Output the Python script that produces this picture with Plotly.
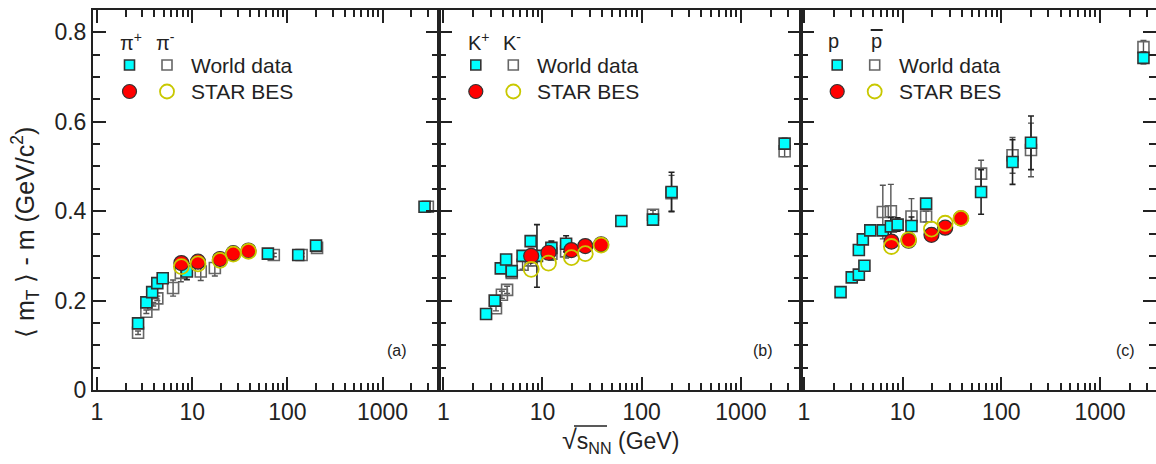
import plotly.graph_objects as go
import numpy as np

W, H = 1156, 464

# ---------------- data ----------------
# panel (a) pions
pip_x = [2.7, 3.3, 3.8, 4.3, 4.9, 8.8, 62.4, 130, 200, 2760]
pip_y = [0.149, 0.196, 0.219, 0.239, 0.250, 0.265, 0.305, 0.302, 0.323, 0.410]
pip_e = [0.005, 0.005, 0.005, 0.005, 0.005, 0.018, 0.004, 0.004, 0.008, 0.008]
pim_x = [2.7, 3.3, 3.9, 4.3, 6.3, 7.6, 12.3, 17.3, 72, 141, 205, 2990]
pim_y = [0.128, 0.175, 0.192, 0.205, 0.228, 0.262, 0.265, 0.273, 0.302, 0.302, 0.318, 0.410]
pim_e = [0.004, 0.004, 0.004, 0.005, 0.018, 0.02, 0.02, 0.018, 0.004, 0.004, 0.008, 0.008]
star_pip_x = [7.7, 11.5, 19.6, 27, 39]
star_pip_y = [0.284, 0.287, 0.293, 0.306, 0.312]
star_pip_e = [0.008, 0.008, 0.008, 0.008, 0.008]
star_pim_y = [0.276, 0.282, 0.290, 0.304, 0.310]

# panel (b) kaons
kp_x = [2.7, 3.3, 3.8, 4.3, 4.9, 6.3, 7.6, 8.8, 12.3, 17.3, 62.4, 130, 200, 2760]
kp_y = [0.170, 0.200, 0.272, 0.292, 0.266, 0.300, 0.333, 0.300, 0.318, 0.327, 0.378, 0.381, 0.443, 0.551]
kp_e = [0.004, 0.005, 0.006, 0.008, 0.006, 0.010, 0.012, 0.070, 0.015, 0.018, 0.010, 0.012, 0.044, 0.012]
km_x = [3.4, 3.9, 4.4, 4.9, 6.3, 7.6, 12.3, 17.3, 130, 200, 2760]
km_y = [0.183, 0.213, 0.224, 0.262, 0.280, 0.290, 0.305, 0.310, 0.392, 0.440, 0.534]
km_e = [0.006, 0.008, 0.008, 0.008, 0.010, 0.012, 0.015, 0.015, 0.010, 0.040, 0.012]
star_kp_x = [7.7, 11.5, 19.6, 27, 39]
star_kp_y = [0.300, 0.307, 0.313, 0.322, 0.326]
star_kp_e = [0.010, 0.010, 0.010, 0.010, 0.010]
star_km_y = [0.270, 0.284, 0.296, 0.305, 0.324]

# panel (c) protons
p_x = [2.35, 3.05, 3.6, 4.1, 3.6, 3.95, 4.7, 6.3, 7.6, 8.9, 12.3, 17.3, 62.4, 130, 200, 2760]
p_y = [0.219, 0.252, 0.258, 0.278, 0.313, 0.337, 0.357, 0.357, 0.366, 0.370, 0.367, 0.417, 0.443, 0.510, 0.553, 0.743]
p_e = [0.006, 0.006, 0.006, 0.008, 0.006, 0.006, 0.008, 0.010, 0.020, 0.015, 0.020, 0.010, 0.050, 0.050, 0.060, 0.013]
pb_x = [6.3, 7.6, 12.3, 17.3, 62.4, 130, 200, 2760]
pb_y = [0.398, 0.400, 0.388, 0.388, 0.484, 0.525, 0.537, 0.767]
pb_e = [0.060, 0.060, 0.040, 0.012, 0.030, 0.040, 0.060, 0.015]
star_p_x = [7.7, 11.5, 19.6, 27, 39]
star_p_y = [0.332, 0.334, 0.347, 0.363, 0.384]
star_p_e = [0.010, 0.010, 0.010, 0.012, 0.015]
star_pb_y = [0.321, 0.336, 0.360, 0.373, 0.384]

x_tick_vals = [1, 10, 100, 1000]
x_tick_text = ["1", "10", "100", "1000"]
y_tick_vals = [0, 0.2, 0.4, 0.6, 0.8]
y_tick_text = ["0", "0.2", "0.4", "0.6", "0.8"]
panel_tags = ["(a)", "(b)", "(c)"]
legend_heads = [("π<sup>+</sup>", "π<sup>-</sup>"), ("K<sup>+</sup>", "K<sup>-</sup>"), ("p", "p")]
legend_labels = ["World data", "STAR BES"]

# ---------------- layout geometry ----------------
edges = [93, 439.3, 800.7, 1156]
x_ranges = [(-0.042, 3.596), (-0.040, 3.603), (-0.033, 3.568)]
y_dom = ((H - 390) / H, (H - 10) / H)

FONT = "Liberation Sans, Arial, sans-serif"
INK = "#222222"
CYAN = "#00FFFF"
YEL = "#C8C800"

fig = go.Figure()

panels = [
    (pip_x, pip_y, pip_e, pim_x, pim_y, pim_e, star_pip_x, star_pip_y, star_pip_e, star_pim_y),
    (kp_x, kp_y, kp_e, km_x, km_y, km_e, star_kp_x, star_kp_y, star_kp_e, star_km_y),
    (p_x, p_y, p_e, pb_x, pb_y, pb_e, star_p_x, star_p_y, star_p_e, star_pb_y),
]

for i, (ax, ay, ae, bx, by, be, sx, sy, se, sy2) in enumerate(panels):
    xa = "x" if i == 0 else f"x{i+1}"
    ya = "y" if i == 0 else f"y{i+1}"
    fig.add_trace(go.Scatter(x=bx, y=by, mode="markers", xaxis=xa, yaxis=ya, showlegend=False,
                             marker=dict(symbol="square-open", size=11, color="#666666", line=dict(width=1.6)),
                             error_y=dict(type="data", array=be, color="#555555", thickness=1.4, width=3)))
    fig.add_trace(go.Scatter(x=ax, y=ay, mode="markers", xaxis=xa, yaxis=ya, showlegend=False,
                             marker=dict(symbol="square", size=11, color=CYAN, line=dict(color="#333333", width=1.6)),
                             error_y=dict(type="data", array=ae, color=INK, thickness=1.6, width=3)))
    fig.add_trace(go.Scatter(x=sx, y=sy, mode="markers", xaxis=xa, yaxis=ya, showlegend=False,
                             marker=dict(symbol="circle", size=15, color="#FF0000", line=dict(color="#333333", width=1.2)),
                             error_y=dict(type="data", array=se, color=INK, thickness=1.4, width=3)))
    fig.add_trace(go.Scatter(x=sx, y=sy2, mode="markers", xaxis=xa, yaxis=ya, showlegend=False,
                             marker=dict(symbol="circle-open", size=15, color=YEL, line=dict(width=1.8))))

layout = dict(
    width=W, height=H, margin=dict(l=0, r=0, t=0, b=0),
    paper_bgcolor="white", plot_bgcolor="white",
    font=dict(family=FONT, color=INK),
    showlegend=False,
)

for i in range(3):
    xk = "xaxis" if i == 0 else f"xaxis{i+1}"
    yk = "yaxis" if i == 0 else f"yaxis{i+1}"
    ya = "y" if i == 0 else f"y{i+1}"
    xa = "x" if i == 0 else f"x{i+1}"
    layout[xk] = dict(
        type="log", range=list(x_ranges[i]), domain=[edges[i] / W, edges[i + 1] / W],
        anchor=ya, showline=True, linecolor=INK, linewidth=2, mirror="ticks",
        ticks="inside", ticklen=13, tickwidth=1.5, tickcolor=INK,
        tickvals=x_tick_vals, ticktext=x_tick_text, showgrid=False, zeroline=False,
        tickfont=dict(size=23, family=FONT, color=INK),
        minor=dict(ticks="inside", ticklen=7, tickwidth=1.5, tickcolor=INK,
                   tickvals=[m * d for d in (1, 10, 100, 1000) for m in range(2, 10)], showgrid=False),
        automargin=False,
    )
    layout[yk] = dict(
        range=[0, 0.85], domain=list(y_dom), anchor=xa,
        showline=True, linecolor=INK, linewidth=2, mirror="ticks",
        ticks="inside", ticklen=13, tickwidth=1.5, tickcolor=INK,
        tickvals=y_tick_vals, ticktext=y_tick_text, showticklabels=(i == 0),
        showgrid=False, zeroline=False,
        tickfont=dict(size=23, family=FONT, color=INK),
        minor=dict(ticks="inside", ticklen=7, tickwidth=1.5, tickcolor=INK, dtick=0.05, showgrid=False),
        automargin=False,
    )

fig.update_layout(**layout)

# ---------------- legends, labels ----------------
def px(x):
    return x / W

def py(y):
    return 1 - y / H

annotations = []
shapes = []
head_off = [(38, 72), (40, 73), (33, 76)]
for i in range(3):
    L = edges[i]
    h1, h2 = legend_heads[i]
    annotations.append(dict(x=px(L + head_off[i][0]), y=py(41), xref="paper", yref="paper", text=h1,
                            showarrow=False, xanchor="center", yanchor="middle", font=dict(size=20, family=FONT, color=INK)))
    annotations.append(dict(x=px(L + head_off[i][1]), y=py(41), xref="paper", yref="paper", text=h2,
                            showarrow=False, xanchor="center", yanchor="middle", font=dict(size=20, family=FONT, color=INK)))
    if i == 2:
        cx = L + head_off[i][1]
        shapes.append(dict(type="line", xref="paper", yref="paper", x0=px(cx - 6), x1=px(cx + 6),
                           y0=py(30), y1=py(30), line=dict(color=INK, width=2)))
    c1 = L + 36.5
    c2 = L + 74
    tx = L + 96
    shapes.append(dict(type="rect", xref="paper", yref="paper", xsizemode="pixel", ysizemode="pixel",
                       xanchor=px(c1), yanchor=py(65), x0=-5, x1=5, y0=-5, y1=5,
                       fillcolor=CYAN, line=dict(color="#333333", width=1.6)))
    shapes.append(dict(type="rect", xref="paper", yref="paper", xsizemode="pixel", ysizemode="pixel",
                       xanchor=px(c2), yanchor=py(65), x0=-5, x1=5, y0=-5, y1=5,
                       fillcolor="white", line=dict(color="#666666", width=1.6)))
    shapes.append(dict(type="circle", xref="paper", yref="paper", xsizemode="pixel", ysizemode="pixel",
                       xanchor=px(c1), yanchor=py(91.5), x0=-7, x1=7, y0=-7, y1=7,
                       fillcolor="#FF0000", line=dict(color="#333333", width=1.2)))
    shapes.append(dict(type="circle", xref="paper", yref="paper", xsizemode="pixel", ysizemode="pixel",
                       xanchor=px(c2), yanchor=py(91.5), x0=-7, x1=7, y0=-7, y1=7,
                       fillcolor="rgba(0,0,0,0)", line=dict(color=YEL, width=1.8)))
    annotations.append(dict(x=px(tx), y=py(65), xref="paper", yref="paper", text=legend_labels[0],
                            showarrow=False, xanchor="left", yanchor="middle", font=dict(size=21, family=FONT, color=INK)))
    annotations.append(dict(x=px(tx), y=py(91.5), xref="paper", yref="paper", text=legend_labels[1],
                            showarrow=False, xanchor="left", yanchor="middle", font=dict(size=21, family=FONT, color=INK)))

tag_x = [397, 763, 1125]
for i in range(3):
    annotations.append(dict(x=px(tag_x[i]), y=py(350), xref="paper", yref="paper", text=panel_tags[i],
                            showarrow=False, xanchor="center", yanchor="middle", font=dict(size=16, family=FONT, color=INK)))

# axis titles
annotations.append(dict(x=px(25), y=py(233), xref="paper", yref="paper",
                        text="⟨ m<sub>T</sub> ⟩ - m (GeV/c<sup>2</sup>)", textangle=-90,
                        showarrow=False, xanchor="center", yanchor="middle", font=dict(size=25, family=FONT, color=INK)))
annotations.append(dict(x=px(560), y=py(441), xref="paper", yref="paper",
                        text="<span style='font-size:27px'>√</span><span style='font-size:23px'>s<sub>NN</sub> (GeV)</span>",
                        showarrow=False, xanchor="left", yanchor="middle", font=dict(size=23, family=FONT, color=INK)))
shapes.append(dict(type="line", xref="paper", yref="paper", x0=px(574), x1=px(607), y0=py(426), y1=py(426),
                   line=dict(color=INK, width=1.5)))

fig.update_layout(annotations=annotations, shapes=shapes)

fig.write_html("out.html")
